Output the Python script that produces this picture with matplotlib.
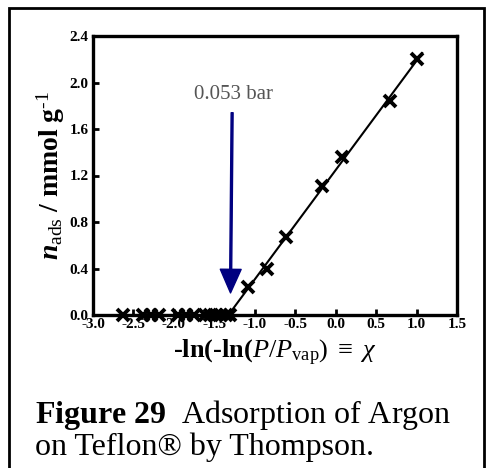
"""
Argon adsorption on Teflon (Thompson), chi plot
"""

import numpy as np
import matplotlib as mpl
mpl.use('Agg')
import matplotlib.pyplot as plt
from matplotlib.patches import Rectangle

# data
chi_zero = [-2.63, -2.38, -2.28, -2.18, -1.95, -1.85, -1.75,
            -1.62, -1.55, -1.48, -1.42, -1.36, -1.31]
n_zero = [0.0]*len(chi_zero)
chi_lin = [-1.08, -0.85, -0.62, -0.17, 0.08, 0.67, 1.01]
n_lin = [0.245, 0.40, 0.67, 1.11, 1.36, 1.84, 2.20]

xticks = [-3.0, -2.5, -2.0, -1.5, -1.0, -0.5, 0.0, 0.5, 1.0, 1.5]
yticks = [0.0, 0.4, 0.8, 1.2, 1.6, 2.0, 2.4]

arrow_x = -1.30
arrow_label = '0.053 bar'

plt.rc('font', family='Liberation Serif')
plt.rc('axes', unicode_minus=False)
plt.rc('mathtext', fontset='custom', rm='Liberation Serif',
       it='Liberation Serif:italic', bf='Liberation Serif:bold:italic',
       sf='Liberation Serif:bold')

W, H = 486, 468
fig = plt.figure(figsize=(W/100, H/100), dpi=100)
ax = fig.add_axes([93/W, 1-315/H, (457-93)/W, (315-36)/H])

# linear fit of the rising branch
slope, icpt = np.polyfit(chi_lin, n_lin, 1)
x0 = -icpt/slope
xf = np.array([x0, max(chi_lin)+0.06])
ax.plot([min(chi_zero), x0], [0, 0], color='k', lw=1.5, zorder=3)
ax.plot(xf, slope*xf+icpt, color='k', lw=1.5, zorder=3)

ax.plot(chi_zero, n_zero, ls='none', marker='x', color='k',
        ms=9, mew=2.8, clip_on=False, zorder=4)
ax.plot(chi_lin, n_lin, ls='none', marker='x', color='k',
        ms=9, mew=2.8, clip_on=False, zorder=4)

ax.annotate('', xy=(arrow_x, 0.19), xytext=(arrow_x+0.02, 1.74),
            arrowprops=dict(color='#000080', width=1.4,
                            headwidth=15, headlength=17))
ax.text(arrow_x+0.04, 1.90, arrow_label, color='#555555',
        fontsize=15, ha='center', va='center')

ax.set_xlim(-3.0, 1.5)
ax.set_ylim(0, 2.4)
ax.set_xticks(xticks)
ax.set_yticks(yticks)
ax.set_xticklabels(['%.1f' % v for v in xticks])
ax.set_yticklabels(['%.1f' % v for v in yticks])
for lab in ax.get_xticklabels() + ax.get_yticklabels():
    lab.set_fontweight('bold')
    lab.set_fontsize(11)
ax.tick_params(direction='in', length=4, width=2, pad=2)
ax.tick_params(axis='y', pad=3)
for s in ax.spines.values():
    s.set_linewidth(2.4)

hy = '\u2010'
ax.set_xlabel(r'$\mathsf{%sln(%sln(}\mathit{P/P}_{\mathrm{vap}})\ \equiv\ \chi$'
              % (hy, hy), fontsize=19, labelpad=5)
ax.set_ylabel(r'$\mathbf{n}_{\mathrm{ads}}\ \mathsf{/\ mmol\ g}^{\mathrm{%s1}}$'
              % hy, fontsize=20, labelpad=2)

# outer frame
fig.patches.append(Rectangle((9/W, -0.05), (484-9)/W, 1.05-8/H,
                             transform=fig.transFigure, fill=False,
                             lw=2, ec='k'))

fig.text(35/W, 1-423/H, r'$\mathsf{Figure\ 29}$' + '  Adsorption of Argon',
         fontsize=23, ha='left', va='baseline')
fig.text(35/W, 1-455/H, 'on Teflon\u00ae by Thompson.',
         fontsize=23, ha='left', va='baseline')

fig.savefig('out.png', dpi=100)
plt.close('all')
